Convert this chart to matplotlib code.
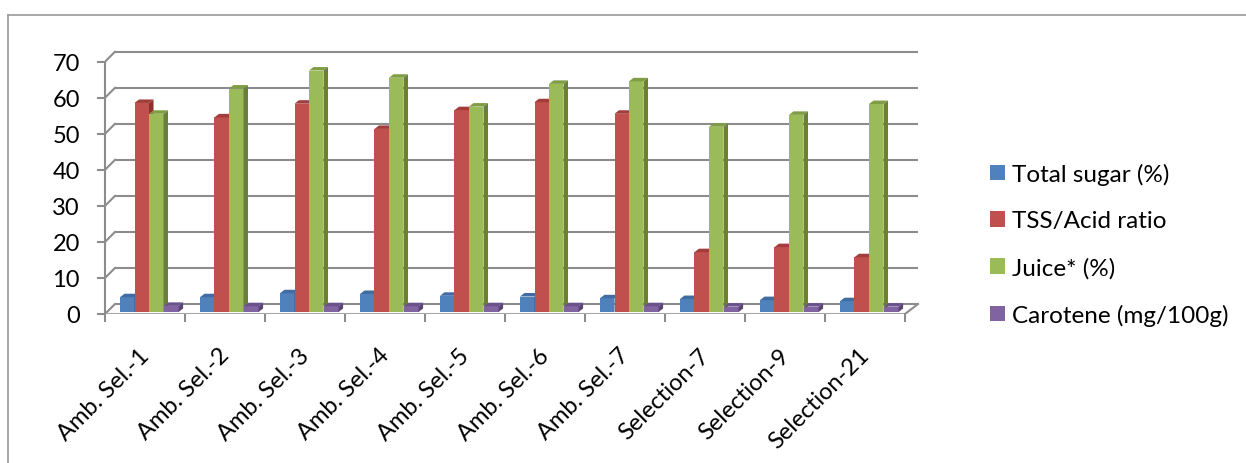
import matplotlib.pyplot as plt
import matplotlib.transforms as mtransforms
from matplotlib.patches import Polygon, Patch
from matplotlib.lines import Line2D
import numpy as np

plt.rcParams['font.family'] = ['Lato', 'DejaVu Sans']

categories = ['Amb. Sel.-1', 'Amb. Sel.-2', 'Amb. Sel.-3', 'Amb. Sel.-4', 'Amb. Sel.-5',
              'Amb. Sel.-6', 'Amb. Sel.-7', 'Selection-7', 'Selection-9', 'Selection-21']
total_sugar = [4.1, 4.1, 5.2, 5.0, 4.5, 4.3, 3.8, 3.6, 3.3, 3.0]
tss_acid = [58.0, 54.0, 57.8, 50.8, 56.0, 58.2, 55.0, 16.6, 18.0, 15.2]
juice = [55.0, 62.0, 67.0, 65.0, 57.0, 63.3, 64.0, 51.4, 54.7, 57.7]
carotene = [1.7, 1.6, 1.6, 1.6, 1.6, 1.6, 1.6, 1.5, 1.5, 1.5]
series_names = ['Total sugar (%)', 'TSS/Acid ratio', 'Juice* (%)', 'Carotene (mg/100g)']

# front, top, side shades for each series
shades = [('#4F81BD', '#3F6CA3', '#385D8A'),
          ('#C0504D', '#A13D3A', '#8C2F2D'),
          ('#9BBB59', '#809D45', '#6A803A'),
          ('#8064A2', '#6A518C', '#5A4574')]

W, H = 1246, 464
fig = plt.figure(figsize=(W / 100, H / 100), dpi=100)

px_x = 1 / 80.0      # one pixel in category units
px_y = 1 / 3.604     # one pixel in value units
ax = fig.add_axes([105 / W, (H - 315) / H, 815 / W, 265 / H])
ax.set_xlim(0, 815 * px_x)
ax.set_ylim(0, 265 * px_y)

grid_c = '#8C8C8C'
wall_dx, wall_dy = 10 * px_x, 10 * px_y
back_right = 813 * px_x

# back wall gridlines with the left-wall diagonals
for v in range(0, 80, 10):
    ax.plot([wall_dx, back_right], [v + wall_dy, v + wall_dy], color=grid_c, lw=1.5, zorder=1,
            solid_capstyle='butt')
    ax.plot([0, wall_dx], [v, v + wall_dy], color=grid_c, lw=1.5, zorder=1)
# floor front edge and right corner
ax.plot([0, 10], [0, 0], color='#A6A6A6', lw=1.5, zorder=1)
ax.plot([10, back_right], [0, wall_dy], color=grid_c, lw=1.5, zorder=1)

# pseudo 3D clustered columns
bar_w = 14.5 * px_x
first = 15 * px_x
base = 2 * px_y
ddx, ddy = 4.5 * px_x, 3.5 * px_y
all_series = [total_sugar, tss_acid, juice, carotene]
z = 5
for i in range(len(categories)):
    for k, vals in enumerate(all_series):
        front, top, side = shades[k]
        x0 = i + first + k * bar_w + (0.6 * px_x if k == 3 else 0)
        v = vals[i]
        ax.bar(x0, v, width=bar_w, bottom=base, align='edge', color=front, lw=0, zorder=z)
        y1 = base + v
        ax.add_patch(Polygon([(x0 + bar_w, base), (x0 + bar_w + ddx, base + ddy),
                              (x0 + bar_w + ddx, y1 + ddy), (x0 + bar_w, y1)],
                             closed=True, facecolor=side, lw=0, zorder=z))
        ax.add_patch(Polygon([(x0, y1), (x0 + ddx, y1 + ddy), (x0 + bar_w + ddx, y1 + ddy),
                              (x0 + bar_w, y1)], closed=True, facecolor=top, lw=0, zorder=z))
        z += 1

for s in ['top', 'right', 'bottom']:
    ax.spines[s].set_visible(False)
ax.spines['left'].set_bounds(0, 70)
ax.spines['left'].set_color(grid_c)
ax.spines['left'].set_linewidth(1.5)

ax.set_yticks(np.arange(0, 80, 10))
ax.tick_params(axis='y', length=6, width=1.5, color=grid_c, pad=12, labelsize=17)
ax.set_xticks(np.arange(0, 11), minor=True)
ax.set_xticks(np.arange(len(categories)) + 0.5)
ax.set_xticklabels(categories, rotation=45, ha='right', va='center', rotation_mode='anchor',
                   fontsize=17)
ax.tick_params(axis='x', which='major', length=0, pad=27)
ax.tick_params(axis='x', which='minor', length=6, width=1.5, color=grid_c)
shift = mtransforms.ScaledTranslation(1 / 100, 0, fig.dpi_scale_trans)
for lab in ax.get_xticklabels():
    lab.set_transform(lab.get_transform() + shift)

handles = [Patch(facecolor=sh[0], edgecolor='none') for sh in shades]
fig.legend(handles, series_names, loc='center left', bbox_to_anchor=(990 / W, 1 - 245.5 / H),
           frameon=False, fontsize=17.5, handlelength=0.62, handleheight=0.62,
           handletextpad=0.3, labelspacing=1.05, borderpad=0, borderaxespad=0)

# chart outline
fig.add_artist(Line2D([8 / W, 8 / W], [0, 1 - 16 / H], color='#999999', lw=1.2))
fig.add_artist(Line2D([8 / W, 1], [1 - 16 / H, 1 - 16 / H], color='#999999', lw=1.2))

fig.savefig('out.png', dpi=100)
